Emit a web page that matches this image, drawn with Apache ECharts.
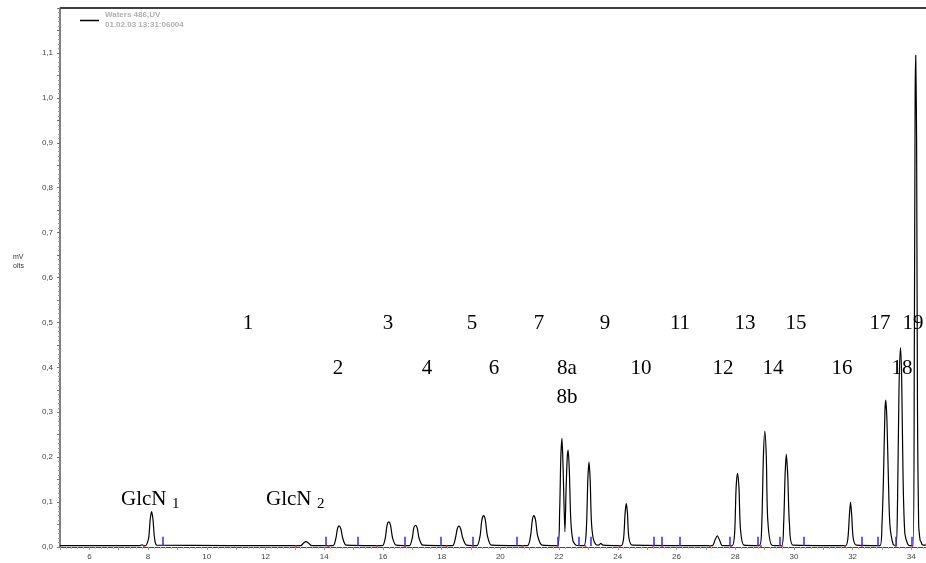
<!DOCTYPE html>
<html>
<head>
<meta charset="utf-8">
<script src="https://cdn.jsdelivr.net/npm/echarts@6/dist/echarts.min.js"></script>
<style>
html,body{margin:0;padding:0;background:#fff;}
#chart{width:926px;height:563px;}
</style>
</head>
<body>
<div id="chart"></div>
<script>
// ---- Data (retention time in min, signal in mV) ----
var baselineStart = [[5.0,0.003],[7.7,0.003],[7.8,0.005],[7.86,0.003]];
var peakGlcN1 = [[7.92,0.003],[8.02,0.02],[8.07,0.06],[8.12,0.079],[8.17,0.06],[8.22,0.02],[8.30,0.004]];
var peakGlcN2 = [[13.2,0.003],[13.3,0.009],[13.38,0.012],[13.46,0.009],[13.58,0.003]];
var peak2 = [[14.3,0.003],[14.40,0.02],[14.45,0.040],[14.51,0.047],[14.57,0.040],[14.63,0.02],[14.75,0.004]];
var peak3 = [[15.98,0.003],[16.08,0.02],[16.14,0.048],[16.20,0.056],[16.26,0.048],[16.33,0.02],[16.45,0.004]];
var peak4 = [[16.9,0.003],[17.0,0.02],[17.05,0.042],[17.11,0.048],[17.17,0.042],[17.23,0.02],[17.36,0.004]];
var peak5 = [[18.37,0.003],[18.47,0.02],[18.53,0.040],[18.59,0.047],[18.65,0.040],[18.72,0.02],[18.85,0.004]];
var peak6 = [[19.2,0.003],[19.31,0.025],[19.37,0.060],[19.43,0.070],[19.49,0.060],[19.56,0.025],[19.70,0.004]];
var peak7 = [[20.92,0.003],[21.03,0.025],[21.09,0.060],[21.14,0.070],[21.20,0.060],[21.27,0.025],[21.42,0.004]];
var peak8ab = [[21.95,0.003],[22.02,0.08],[22.06,0.20],[22.10,0.242],[22.14,0.17],[22.20,0.034],[22.24,0.13],[22.28,0.20],[22.31,0.216],[22.35,0.17],[22.40,0.06],[22.47,0.015],[22.58,0.004]];
var peak9 = [[22.85,0.003],[22.93,0.04],[22.98,0.15],[23.02,0.189],[23.06,0.15],[23.10,0.06],[23.16,0.02],[23.25,0.006],[23.35,0.004],[23.42,0.008],[23.50,0.004]];
var peak10 = [[24.12,0.003],[24.20,0.02],[24.25,0.075],[24.29,0.097],[24.33,0.075],[24.38,0.02],[24.50,0.004]];
var peak11 = [[27.22,0.003],[27.31,0.015],[27.39,0.025],[27.47,0.015],[27.56,0.003]];
var peak12 = [[27.90,0.003],[27.98,0.03],[28.03,0.13],[28.08,0.164],[28.13,0.13],[28.18,0.04],[28.30,0.004]];
var peak13 = [[28.82,0.003],[28.90,0.04],[28.96,0.20],[29.01,0.258],[29.06,0.20],[29.11,0.06],[29.25,0.004]];
var peak14 = [[29.58,0.003],[29.65,0.05],[29.70,0.16],[29.74,0.206],[29.79,0.16],[29.85,0.05],[29.98,0.004]];
var peak16 = [[31.76,0.003],[31.84,0.02],[31.89,0.07],[31.93,0.100],[31.97,0.07],[32.02,0.02],[32.13,0.004]];
var peak17 = [[32.93,0.003],[33.00,0.05],[33.05,0.15],[33.10,0.30],[33.13,0.327],[33.17,0.28],[33.22,0.15],[33.27,0.05],[33.38,0.006]];
var peak18 = [[33.48,0.003],[33.53,0.10],[33.58,0.35],[33.63,0.444],[33.67,0.38],[33.72,0.15],[33.78,0.03],[33.88,0.006],[33.95,0.003]];
var peak19 = [[34.06,0.003],[34.10,0.40],[34.13,1.00],[34.15,1.095],[34.18,0.90],[34.21,0.30],[34.25,0.05],[34.30,0.015],[34.33,0.012],[34.37,0.005],[34.50,0.004]];

var integrationMarks = [8.50,14.05,15.13,16.76,17.97,19.06,20.56,21.95,22.67,23.09,25.21,25.51,26.12,27.80,28.76,29.51,30.32,32.31,32.85,33.47,34.03];
var baselinePoints = [7.86,13.03,14.15,15.80,16.75,18.17,19.06,20.76,21.95,22.90,24.07,25.21,25.51,27.14,27.86,28.88,29.60,31.74,32.31,33.47,34.03];

var xTickLabels = [6,8,10,12,14,16,18,20,22,24,26,28,30,32,34];
var yTickLabels = [0.0,0.1,0.2,0.3,0.4,0.5,0.6,0.7,0.8,0.9,1.0,1.1];

// peak number labels: [text, x px, y px]
var peakLabels = [
  ['1',248,323],['3',388,323],['5',472,323],['7',539,323],['9',605,323],['11',680,323],['13',745,323],['15',796,323],['17',880,323],['19',913,323],
  ['2',338,368],['4',427,368],['6',494,368],['8a',567,368],['10',641,368],['12',723,368],['14',773,368],['16',842,368],['18',902,368],
  ['8b',567,397]
];

// ---- Build ----
var trace = [].concat(baselineStart, peakGlcN1, peakGlcN2, peak2, peak3, peak4, peak5, peak6, peak7,
  peak8ab, peak9, peak10, peak11, peak12, peak13, peak14, peak16, peak17, peak18, peak19);

var chart = echarts.init(document.getElementById('chart'));
var serif = '"Liberation Serif","Times New Roman",serif';
var sans = '"Liberation Sans",Arial,sans-serif';

var graphics = [
  {type:'line', shape:{x1:60,y1:8,x2:926,y2:8}, style:{stroke:'#000',lineWidth:1.5}},
  {type:'line', shape:{x1:80,y1:20.5,x2:99,y2:20.5}, style:{stroke:'#000',lineWidth:1.5}},
  {type:'text', left:105, top:11, style:{text:'Waters 486,UV', font:'bold 8px '+sans, fill:'#b0b0b0'}},
  {type:'text', left:105, top:21, style:{text:'01.02.03 13:31:06004', font:'bold 8px '+sans, fill:'#b0b0b0'}},
  {type:'text', left:13, top:253, style:{text:'mV\nolts', font:'7px '+sans, fill:'#333', lineHeight:9}},
  {type:'text', x:121, y:499, style:{text:'GlcN', font:'21px '+serif, fill:'#000', textVerticalAlign:'middle'}},
  {type:'text', x:172, y:504, style:{text:'1', font:'15px '+serif, fill:'#000', textVerticalAlign:'middle'}},
  {type:'text', x:266, y:499, style:{text:'GlcN', font:'21px '+serif, fill:'#000', textVerticalAlign:'middle'}},
  {type:'text', x:317, y:504, style:{text:'2', font:'15px '+serif, fill:'#000', textVerticalAlign:'middle'}}
];
peakLabels.forEach(function(p){
  graphics.push({type:'text', x:p[1], y:p[2], style:{text:p[0], font:'21px '+serif, fill:'#000', textAlign:'center', textVerticalAlign:'middle'}});
});

var option = {
  animation:false,
  backgroundColor:'#fff',
  grid:{left:60, right:0, top:8, bottom:16, containLabel:false},
  xAxis:{
    type:'value', min:5, max:34.5, interval:1,
    axisLine:{show:true, lineStyle:{color:'#444', width:1}},
    axisTick:{show:true, length:3, lineStyle:{color:'#999'}},
    minorTick:{show:true, splitNumber:5, length:2, lineStyle:{color:'#bbb'}},
    splitLine:{show:false},
    axisLabel:{showMaxLabel:false, showMinLabel:false, fontSize:8, color:'#444', fontFamily:sans, margin:6,
      formatter:function(v){ return xTickLabels.indexOf(Math.round(v))>=0 && Math.abs(v-Math.round(v))<1e-6 ? String(Math.round(v)) : ''; }}
  },
  yAxis:{
    type:'value', min:0, max:1.2, interval:0.05,
    axisLine:{show:true, lineStyle:{color:'#555', width:1.5}},
    axisTick:{show:true, length:3, lineStyle:{color:'#777'}},
    minorTick:{show:true, splitNumber:5, length:2, lineStyle:{color:'#999'}},
    splitLine:{show:false},
    axisLabel:{showMaxLabel:false, fontSize:8, color:'#444', fontFamily:sans, margin:7,
      formatter:function(v){
        var r = Math.round(v*10)/10;
        if (Math.abs(v-r)>1e-6) return '';
        for (var i=0;i<yTickLabels.length;i++){ if (Math.abs(yTickLabels[i]-r)<1e-6) return r.toFixed(1).replace('.',','); }
        return '';
      }}
  },
  series:[
    {
      type:'line', data:trace, symbol:'none', smooth:0.25,
      lineStyle:{color:'#000', width:1.2}, z:3,
      markLine:{
        silent:true, symbol:['none','none'], label:{show:false},
        lineStyle:{color:'#2a2aff', width:1.5, type:'solid'},
        data: integrationMarks.map(function(t){ return [{coord:[t,0.002]},{coord:[t,0.023]}]; })
      }
    },
    {
      type:'scatter', data: baselinePoints.map(function(t){ return [t,0.002]; }),
      symbol:'rect', symbolSize:[2,2], itemStyle:{color:'#ff2020'}, z:4, silent:true
    }
  ],
  graphic: graphics
};
chart.setOption(option);
</script>
</body>
</html>
